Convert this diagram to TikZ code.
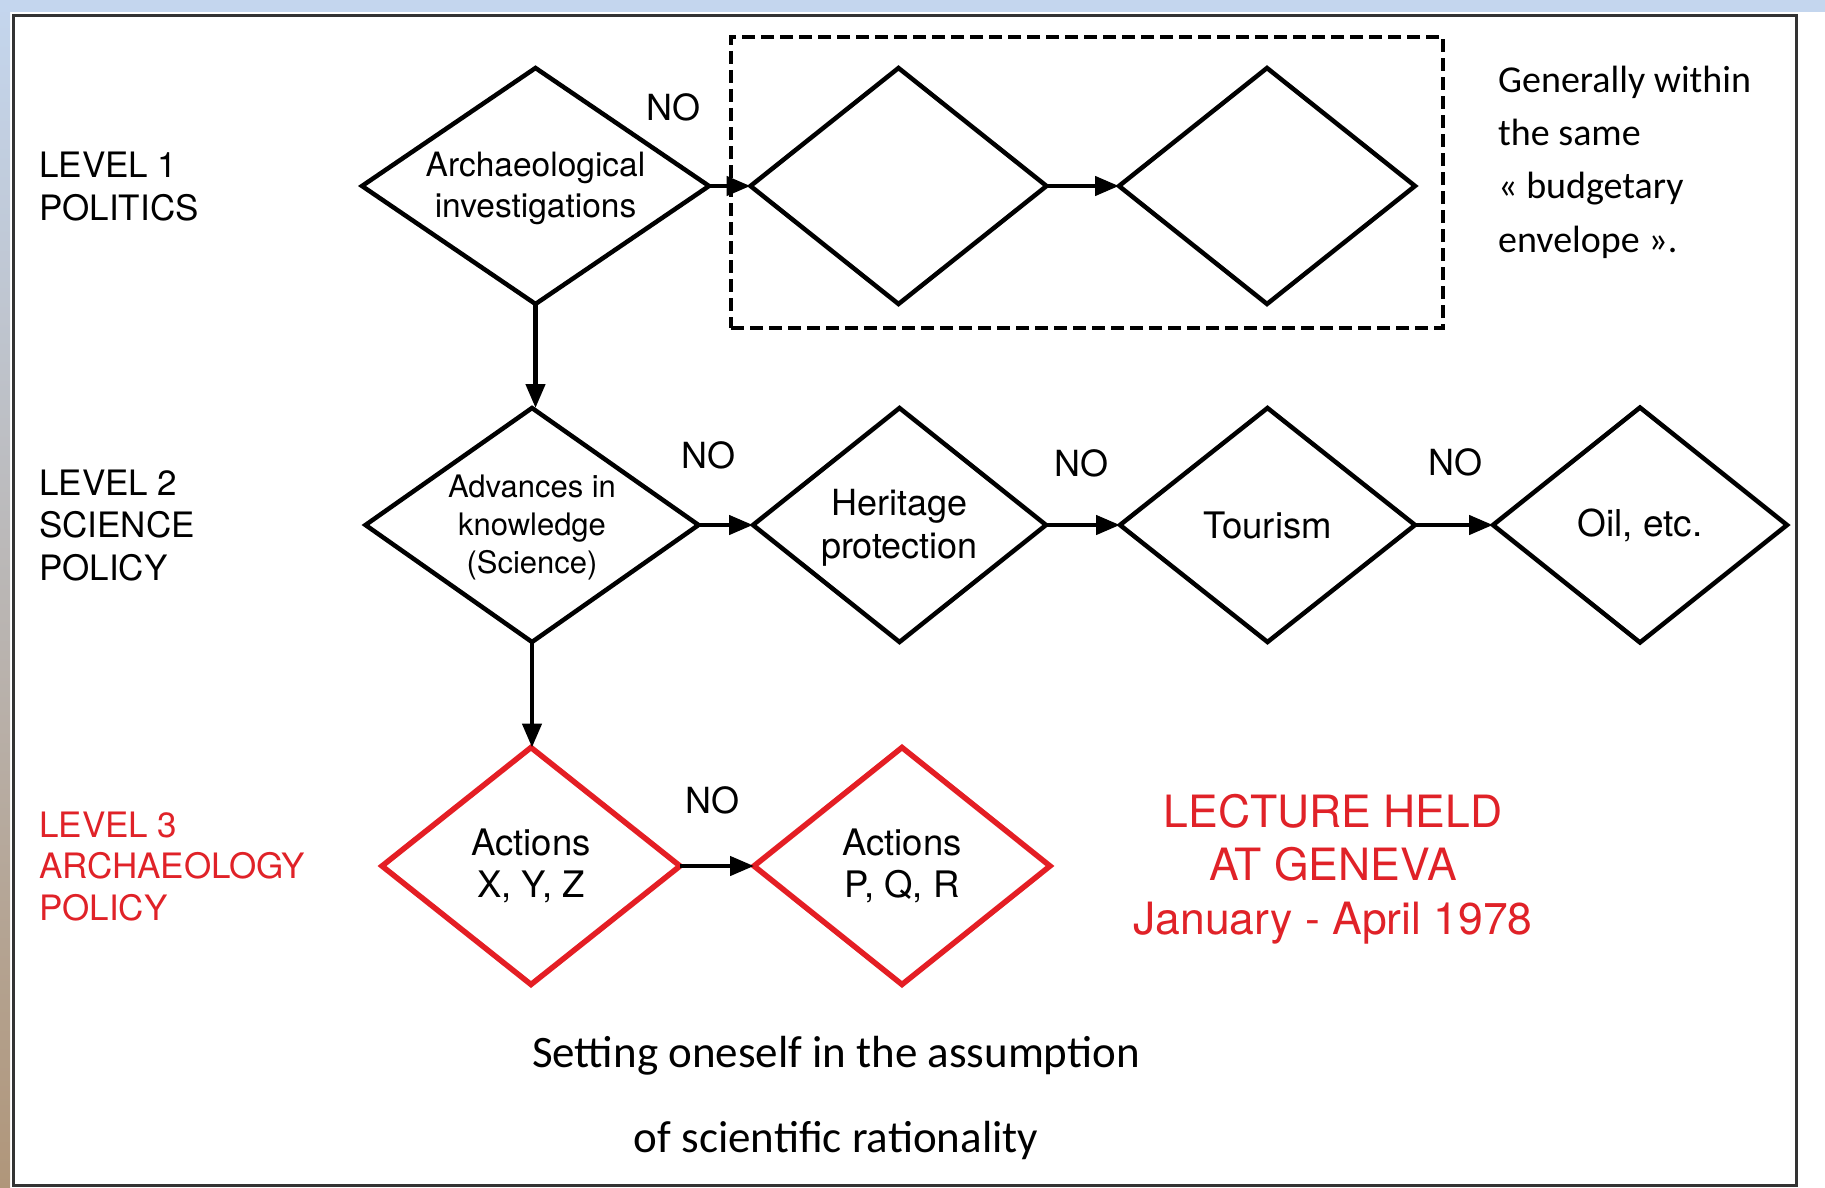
\documentclass[tikz,border=0pt]{standalone}
\usepackage{fontspec}
\setmainfont{TeX Gyre Heros}
\newfontfamily\notefont{Carlito}
\usetikzlibrary{shapes.geometric,arrows.meta}

\definecolor{levelred}{RGB}{224,34,40}
\definecolor{boxred}{RGB}{228,30,36}
\definecolor{stripblue}{RGB}{196,214,238}
\definecolor{striptan}{RGB}{176,150,122}

\begin{document}
\begin{tikzpicture}[x=1pt,y=-1pt,
  decision/.style={shape=diamond, draw=black, line width=4.5pt, inner sep=0pt, outer sep=0pt},
  actionbox/.style={decision, draw=boxred, line width=5.5pt},
  inside/.style={align=center, inner sep=0pt, yshift=-2pt},
  flow/.style={line width=4.5pt, -{Triangle[length=24pt,width=19pt]}},
  nolabel/.style={inner sep=0pt, font=\fontsize{36}{43}\selectfont},
  levellabel/.style={anchor=base west, align=left, inner sep=0pt, font=\fontsize{35}{42.5}\selectfont},
  envelope/.style={draw=black, line width=4pt, dash pattern=on 13pt off 6pt, inner sep=0pt, outer sep=0pt}
]
% page and surroundings
\fill[white] (0,0) rectangle (1825,1188);
\useasboundingbox (0,0) rectangle (1825,1188);
\shade[top color=stripblue, middle color=stripblue!60!striptan, bottom color=striptan] (0,0) rectangle (10,1188);
\fill[stripblue] (0,0) rectangle (1825,12);
\draw[line width=3pt, black!80] (13,16) rectangle (1796,1185);

% level captions (anchored on the baseline of their last line)
\node (lvl1) [levellabel] at (39,220) {LEVEL 1\\POLITICS};
\node (lvl2) [levellabel] at (39,580) {LEVEL 2\\SCIENCE\\POLICY};
\node (lvl3) [levellabel, text=levelred, font=\fontsize{35}{41.5}\selectfont] at (39,920) {LEVEL 3\\ARCHAEOLOGY\\POLICY};

% level 1
\node (envbox) [envelope, minimum width=712pt, minimum height=291pt] at (1087,182.5) {};
\node (arch) [decision, minimum width=347pt, minimum height=236pt,
  label={[inside, font=\fontsize{33.5}{41}\selectfont]center:{Archaeological\\investigations}}] at (535.5,186) {};
\node (blankA) [decision, minimum width=296pt, minimum height=236pt] at (898.5,186) {};
\node (blankB) [decision, minimum width=296pt, minimum height=236pt] at (1267,186) {};

% level 2
\node (adv) [decision, minimum width=333pt, minimum height=234pt,
  label={[inside, font=\fontsize{31}{38}\selectfont]center:{Advances in\\knowledge\\(Science)}}] at (532,525) {};
\node (herit) [decision, minimum width=293pt, minimum height=234pt,
  label={[inside, yshift=-1pt, font=\fontsize{36}{42.5}\selectfont]center:{Heritage\\protection}}] at (899.5,525) {};
\node (tour) [decision, minimum width=295pt, minimum height=234pt,
  label={[inner sep=0pt, font=\fontsize{36.5}{43}\selectfont]center:{Tourism}}] at (1267.5,525) {};
\node (oil) [decision, minimum width=294pt, minimum height=235pt,
  label={[inner sep=0pt, font=\fontsize{37}{43}\selectfont]center:{Oil, etc.}}] at (1640,525) {};

% level 3
\node (actA) [actionbox, minimum width=298pt, minimum height=237pt,
  label={[align=center, inner sep=0pt, font=\fontsize{36.5}{42}\selectfont]center:{Actions\\X, Y, Z}}] at (531,866) {};
\node (actB) [actionbox, minimum width=296pt, minimum height=237pt,
  label={[align=center, inner sep=0pt, font=\fontsize{36.5}{42}\selectfont]center:{Actions\\P, Q, R}}] at (902,866) {};

% connectors
\draw[flow] (arch.east) -- (blankA.west);
\draw[flow] (blankA.east) -- (blankB.west);
\draw[flow] (arch.south) -- (arch.south |- adv.north);
\draw[flow] (adv.east) -- (herit.west);
\draw[flow] (herit.east) -- (tour.west);
\draw[flow] (tour.east) -- (oil.west);
\draw[flow] (adv.south) -- (adv.south |- actA.north);
\draw[flow] (actA.east) -- (actB.west);

% NO labels
\node (no1) [nolabel] at (673,107) {NO};
\node (no2) [nolabel] at (708,455) {NO};
\node (no3) [nolabel] at (1081,463) {NO};
\node (no4) [nolabel] at (1455,462) {NO};
\node (no5) [nolabel] at (712,800) {NO};

% notes (anchored on the baseline of their last line)
\node (budget) [anchor=base west, align=left, inner sep=0pt, font=\notefont\fontsize{38}{53.3}\selectfont] at (1498,252)
  {Generally within\\the same\\« budgetary\\envelope ».};
\node (lecture) [anchor=base, align=center, inner sep=0pt, text=levelred, font=\fontsize{44.5}{53.5}\selectfont] at (1333,934)
  {LECTURE HELD\\AT GENEVA\\January - April 1978};
\node (premise) [anchor=base, align=center, inner sep=0pt, font=\notefont\fontsize{45}{85}\selectfont] at (836,1152)
  {Setting oneself in the assumption\\of scientific rationality};
\end{tikzpicture}
\end{document}
